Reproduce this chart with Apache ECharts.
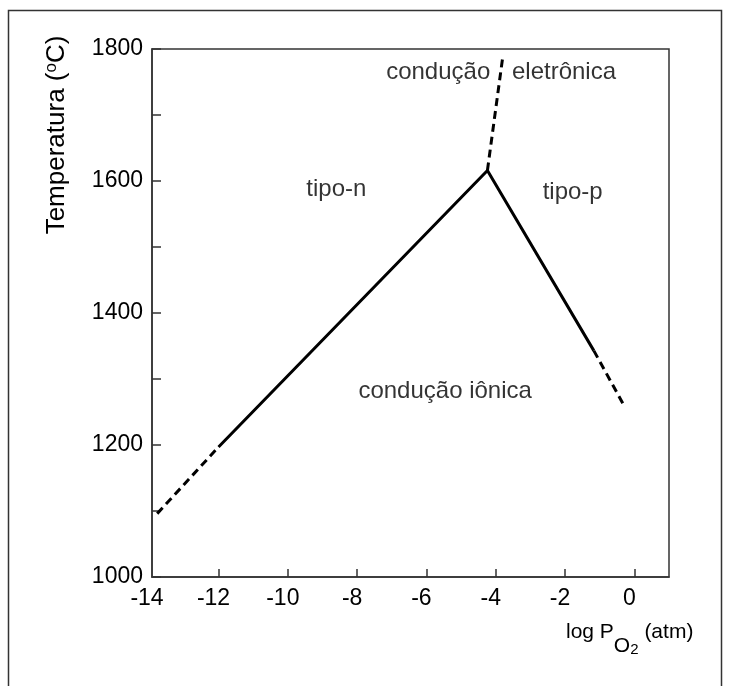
<!DOCTYPE html>
<html>
<head>
<meta charset="utf-8">
<script src="https://cdn.jsdelivr.net/npm/echarts@6/dist/echarts.min.js"></script>
<style>
  html, body { margin: 0; padding: 0; background: #fff; }
  #chart { width: 732px; height: 686px; }
</style>
</head>
<body>
<div id="chart"></div>
<script>
// log PO2 ticks and temperature ticks
const xTicks = [-14, -12, -10, -8, -6, -4, -2, 0]
const yTicks = [1000, 1100, 1200, 1300, 1400, 1500, 1600, 1700, 1800]

// solid boundary: n-type / ionic / p-type
const solidLine = [[-12, 1197], [-4.24, 1616], [-1.17, 1343]]
// dashed extrapolations
const dashLow = [[-13.77, 1096], [-12, 1197]]
const dashTop = [[-4.24, 1616], [-3.79, 1791]]
const dashRight = [[-1.17, 1343], [-0.31, 1261]]

// region labels [x, y, text]
const regionLabels = [
  [-5.66, 1764, 'condução'],
  [-2.03, 1764, 'eletrônica'],
  [-8.6, 1587, 'tipo-n'],
  [-1.78, 1583, 'tipo-p'],
  [-5.46, 1281, 'condução iônica']
]

const axisColor = '#333'
const font = 'Liberation Sans, Arial, sans-serif'

const chart = echarts.init(document.getElementById('chart'))

const dashStyle = { color: '#000', width: 3, type: [8, 5] }

chart.setOption({
  animation: false,
  grid: {
    left: 152, top: 49, right: 63, bottom: 109,
    show: true, borderColor: axisColor, borderWidth: 1.5
  },
  xAxis: {
    type: 'value',
    min: -13.92,
    max: 1,
    axisLine: { show: true, onZero: false, lineStyle: { color: axisColor, width: 1.5 } },
    splitLine: { show: false },
    axisTick: {
      inside: true, length: 8,
      customValues: xTicks.slice(1),
      lineStyle: { color: axisColor, width: 1.5 }
    },
    axisLabel: {
      customValues: [-13.92].concat(xTicks.slice(1)),
      formatter: v => String(Math.round(v)),
      margin: 10,
      color: '#000',
      fontFamily: font,
      fontSize: 23,
      padding: [0, 10, 0, 0]
    }
  },
  yAxis: {
    type: 'value',
    min: 1000,
    max: 1800,
    axisLine: { show: true, onZero: false, lineStyle: { color: axisColor, width: 1.5 } },
    splitLine: { show: false },
    axisTick: {
      inside: true, length: 9,
      customValues: yTicks,
      lineStyle: { color: axisColor, width: 1.5 }
    },
    axisLabel: {
      customValues: yTicks.filter(v => v % 200 === 0),
      formatter: v => String(v),
      margin: 9,
      color: '#000',
      fontFamily: font,
      fontSize: 23
    }
  },
  series: [
    {
      type: 'line', data: solidLine, symbol: 'none',
      lineStyle: { color: '#000', width: 3 }
    },
    { type: 'line', data: dashLow, symbol: 'none', lineStyle: dashStyle },
    { type: 'line', data: dashTop, symbol: 'none', lineStyle: dashStyle },
    { type: 'line', data: dashRight, symbol: 'none', lineStyle: dashStyle },
    {
      type: 'scatter',
      symbolSize: 0,
      data: regionLabels.map(d => ({ value: [d[0], d[1]], name: d[2] })),
      label: {
        show: true,
        position: 'inside',
        formatter: p => p.name,
        color: '#000',
        fontFamily: font,
        fontSize: 24
      }
    }
  ],
  graphic: [
    {
      type: 'rect',
      shape: { x: 8.5, y: 10.5, width: 713, height: 700 },
      style: { fill: 'none', stroke: '#333', lineWidth: 1.5 },
      silent: true
    },
    {
      type: 'text',
      x: 57, y: 135,
      rotation: Math.PI / 2,
      style: {
        text: '{a|Temperatura (}{s|o}{a|C)}',
        align: 'center',
        verticalAlign: 'middle',
        rich: {
          a: { fontSize: 26, fontFamily: font, color: '#000' },
          s: { fontSize: 17, fontFamily: font, color: '#000', padding: [0, 0, 11, 0] }
        }
      }
    },
    {
      type: 'text',
      left: 566, top: 622,
      style: {
        text: '{a|log P}{s|O}{b|2}{a| (atm)}',
        rich: {
          a: { fontSize: 21, fontFamily: font, color: '#000', verticalAlign: 'top' },
          s: { fontSize: 21, fontFamily: font, color: '#000', padding: [14, 0, 0, 0] },
          b: { fontSize: 15, fontFamily: font, color: '#000', padding: [20, 0, 0, 0] }
        }
      }
    }
  ]
})
</script>
</body>
</html>
